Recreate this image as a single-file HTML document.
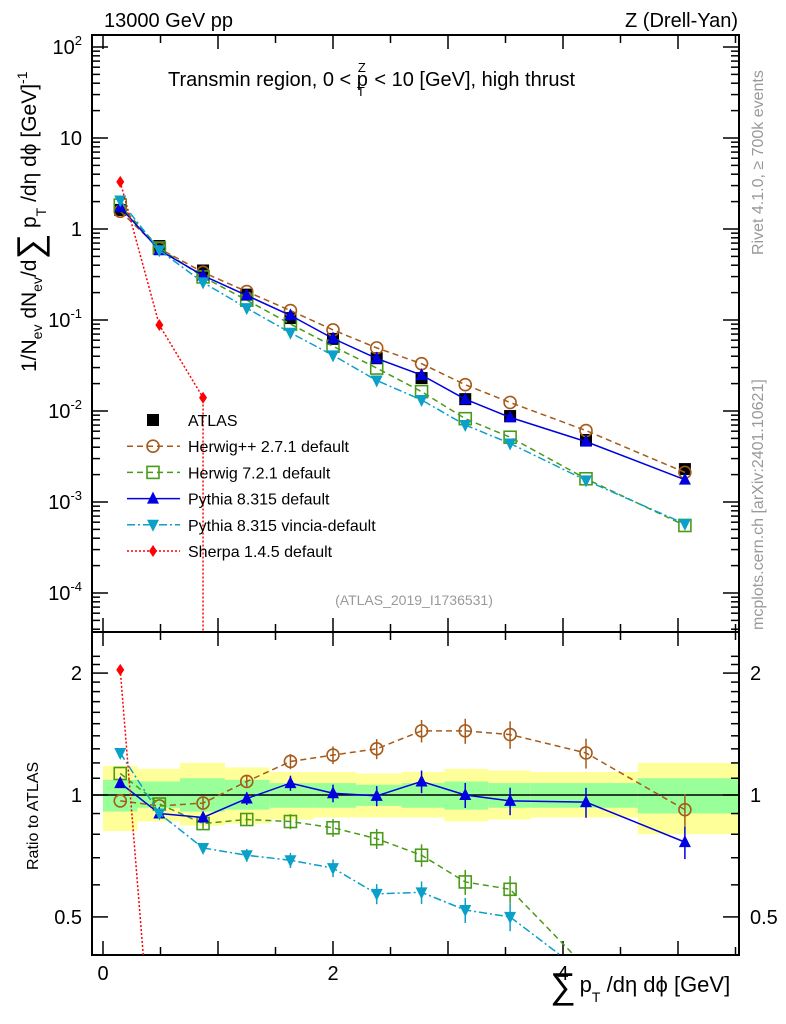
<!DOCTYPE html>
<html><head><meta charset="utf-8"><style>
body{margin:0;background:#fff;overflow:hidden;}
svg{display:block;font-family:"Liberation Sans",sans-serif;}
</style></head><body>
<svg id="c" width="786" height="1024" viewBox="0 0 786 1024" xmlns="http://www.w3.org/2000/svg"></svg>
<script>
const binCenters=[0.15,0.49,0.87,1.25,1.63,2.0,2.38,2.77,3.15,3.54,4.2,5.06];
const bandEdges=[0,0.3,0.67,1.06,1.45,1.83,2.2,2.6,2.97,3.35,3.72,4.65,5.53];
const yellowHi=[1.18,1.16,1.2,1.17,1.14,1.14,1.13,1.14,1.16,1.15,1.14,1.2];
const yellowLo=[0.815,0.86,0.84,0.85,0.87,0.88,0.88,0.88,0.86,0.87,0.88,0.8];
const greenHi=[1.09,1.08,1.1,1.09,1.07,1.07,1.06,1.07,1.08,1.07,1.07,1.1];
const greenLo=[0.91,0.93,0.91,0.92,0.93,0.93,0.94,0.93,0.92,0.93,0.93,0.9];
const atlas=[1.62,0.65,0.35,0.19,0.105,0.062,0.038,0.023,0.0135,0.0088,0.0048,0.0023];
const herwigppRatio=[0.967,0.94,0.955,1.08,1.21,1.255,1.3,1.44,1.44,1.41,1.27,0.92];
const herwig7Ratio=[1.13,0.95,0.85,0.87,0.86,0.83,0.78,0.71,0.61,0.585,0.375,0.24];
const pythiaRatio=[1.07,0.9,0.88,0.98,1.07,1.01,0.995,1.08,1.0,0.967,0.96,0.765];
const vinciaRatio=[1.27,0.9,0.74,0.71,0.69,0.66,0.57,0.575,0.52,0.5,0.36,0.25];
const sherpa=[3.3,0.088,0.014];
const mainTicks=["10^2","10","1","10^-1","10^-2","10^-3","10^-4"];

const NS="http://www.w3.org/2000/svg";
const svg=document.getElementById('c');
function mk(tag,attrs,parent){const e=document.createElementNS(NS,tag);for(const k in attrs)e.setAttribute(k,attrs[k]);(parent||svg).appendChild(e);return e;}
const L=92,R=739,T=35,MB=632,RB=955;
const X=v=>103+v*115;
const YM=v=>229-91*Math.log10(v);
const YR=v=>795-405*Math.log10(v);
const clampLine=(p0,p1,yLim)=>{ if(p1[1]<=yLim) return p1; const f=(yLim-p0[1])/(p1[1]-p0[1]); return [p0[0]+f*(p1[0]-p0[0]),yLim]; };

const defs=mk('defs',{});
const c1=mk('clipPath',{id:'cm'},defs);mk('rect',{x:L,y:T,width:R-L,height:MB-T},c1);
const c2=mk('clipPath',{id:'cr'},defs);mk('rect',{x:L,y:MB,width:R-L,height:RB-MB},c2);

const bands=mk('g',{'clip-path':'url(#cr)'});


for(let i=0;i<binCenters.length;i++){
  const x0=X(bandEdges[i]),x1=X(bandEdges[i+1]);
  const y=mk('rect',{x:x0,y:YR(yellowHi[i]),width:x1-x0,height:YR(yellowLo[i])-YR(yellowHi[i]),fill:'#ffff99'},bands);
  
  
  const g=mk('rect',{x:x0,y:YR(greenHi[i]),width:x1-x0,height:YR(greenLo[i])-YR(greenHi[i]),fill:'#99ff99'},bands);
  
  
}
mk('line',{x1:L,x2:R,y1:YR(1),y2:YR(1),stroke:'#000','stroke-width':1.5});

for(const [y0,y1,nm] of [[T,MB,'main-plot-frame'],[MB,RB,'ratio-plot-frame']]){
  const f=mk('rect',{x:L,y:y0,width:R-L,height:y1-y0,fill:'none',stroke:'#000','stroke-width':2});
  
  
}
for(let v=0;v<=5.5;v+=0.5){
  const major=(v%1===0);
  const len=major?14:8;
  for(const yb of [MB,RB]) mk('line',{x1:X(v),x2:X(v),y1:yb,y2:yb-len,stroke:'#000','stroke-width':1.5});
  for(const yt of [T,MB]) mk('line',{x1:X(v),x2:X(v),y1:yt,y2:yt+len,stroke:'#000','stroke-width':1.5});
}
for(const v of [0,2,4]){
  const t=mk('text',{x:X(v),y:980,'font-size':20,'text-anchor':'middle'});t.textContent=v;
  
  
}
for(let d=-5;d<=2;d++){
  for(let m=1;m<10;m++){
    const v=m*Math.pow(10,d);const y=YM(v);
    if(y<T||y>MB)continue;
    const len=m===1?16:8;
    mk('line',{x1:L,x2:L+len,y1:y,y2:y,stroke:'#000','stroke-width':1.5});
    mk('line',{x1:R,x2:R-len,y1:y,y2:y,stroke:'#000','stroke-width':1.5});
  }
}
mainTicks.forEach((lab,i)=>{
  const v=Math.pow(10,2-i);const y=YM(v)+7;
  const t=mk('text',{x:82,y:y,'font-size':20,'text-anchor':'end'});
  
  
  const p=lab.split('^');
  t.textContent=p[0];
  if(p[1]){const s=mk('tspan',{'font-size':13,dy:-9},t);s.textContent=p[1];}
});
for(let v=0.3;v<=2.3;v+=0.1){
  const y=YR(v);if(y<MB||y>RB)continue;
  const major=[0.5,1,2].some(q=>Math.abs(q-v)<1e-6);
  const len=major?16:8;
  mk('line',{x1:L,x2:L+len,y1:y,y2:y,stroke:'#000','stroke-width':1.5});
  mk('line',{x1:R,x2:R-len,y1:y,y2:y,stroke:'#000','stroke-width':1.5});
}
for(const v of [0.5,1,2]){
  for(const [x,a] of [[82,'end'],[750,'start']]){
    const t=mk('text',{x:x,y:YR(v)+7,'font-size':20,'text-anchor':a});t.textContent=v;
    
    
  }
}

function marker(g,type,x,y,col){
  if(type==='sq')mk('rect',{x:x-6,y:y-6,width:12,height:12,fill:'#000'},g);
  if(type==='osq')mk('rect',{x:x-6,y:y-6,width:12,height:12,fill:'none',stroke:col,'stroke-width':1.6},g);
  if(type==='oc')mk('circle',{cx:x,cy:y,r:6,fill:'none',stroke:col,'stroke-width':1.6},g);
  if(type==='tu')mk('path',{d:`M${x},${y-7}L${x+6},${y+5}L${x-6},${y+5}Z`,fill:col},g);
  if(type==='td')mk('path',{d:`M${x},${y+7}L${x+6},${y-5}L${x-6},${y-5}Z`,fill:col},g);
  if(type==='dia')mk('path',{d:`M${x},${y-6}L${x+4},${y}L${x},${y+6}L${x-4},${y}Z`,fill:col},g);
}
const series=[
  {name:'herwigpp',ratio:herwigppRatio,col:'#a65a1a',dash:'6,4',m:'oc',lab:'Herwig++ 2.7.1 default'},
  {name:'herwig7',ratio:herwig7Ratio,col:'#4a9a1a',dash:'6,4',m:'osq',lab:'Herwig 7.2.1 default'},
  {name:'pythia',ratio:pythiaRatio,col:'#0000e0',dash:'',m:'tu',lab:'Pythia 8.315 default'},
  {name:'vincia',ratio:vinciaRatio,col:'#0aa0c8',dash:'8,3,2,3',m:'td',lab:'Pythia 8.315 vincia-default'},
  {name:'sherpa',vals:sherpa,col:'#ff0000',dash:'2,2',m:'dia',lab:'Sherpa 1.4.5 default'}
];
const ga=mk('g',{'clip-path':'url(#cm)'});


atlas.forEach((v,i)=>marker(ga,'sq',X(binCenters[i]),YM(v)));

series.forEach(s=>{
  const vals=s.vals||s.ratio.map((r,i)=>r*atlas[i]);
  const gm=mk('g',{'clip-path':'url(#cm)'});
  
  
  const gr=mk('g',{'clip-path':'url(#cr)'});
  
  
  let pm=vals.map((v,i)=>[X(binCenters[i]),YM(v)]);
  let pr=vals.map((v,i)=>[X(binCenters[i]),Math.min(YR(v/atlas[i]),RB+20)]);
  if(s.name==='sherpa'){
    pm.push([X(binCenters[2]),MB]);
    pr=[pr[0],[X(0.35),RB]];
  } else {
    // clip polyline at panel bottom
    const out=[];for(let i=0;i<pr.length;i++){ if(pr[i][1]<=RB) out.push(pr[i]); else { out.push(clampLine(pr[i-1],pr[i],RB)); break; } }
    pr=out;
  }
  mk('polyline',{points:pm.map(p=>p.join(',')).join(' '),fill:'none',stroke:s.col,'stroke-width':1.5,'stroke-dasharray':s.dash},gm);
  mk('polyline',{points:pr.map(p=>p.join(',')).join(' '),fill:'none',stroke:s.col,'stroke-width':1.5,'stroke-dasharray':s.dash},gr);
  vals.forEach((v,i)=>{
    const x=X(binCenters[i]);
    marker(gm,s.m,x,YM(v),s.col);
    const r=v/atlas[i];
    if(YR(r)>RB) return;
    if(i>1 && s.name!=='sherpa'){const e=0.015+0.007*i;mk('line',{x1:x,x2:x,y1:YR(r*(1+e)),y2:Math.min(RB,YR(r*(1-e))),stroke:s.col,'stroke-width':1.5},gr);}
    marker(gr,s.m,x,YR(r),s.col);
  });
});

const leg=mk('g',{});


const lt=[['ATLAS','sq','#000','']].concat(series.map(s=>[s.lab,s.m,s.col,s.dash]));
lt.forEach((e,i)=>{
  const y=420+i*26.2;
  const g=mk('g',{},leg);
  
  
  if(i>0)mk('line',{x1:127,x2:180,y1:y,y2:y,stroke:e[2],'stroke-width':1.5,'stroke-dasharray':e[3]},g);
  marker(g,e[1],153,y,e[2]);
  const t=mk('text',{x:188,y:y+6,'font-size':16},g);t.textContent=e[0];
});

function txt(x,y,s,str,attrs){const t=mk('text',Object.assign({x:x,y:y,'font-size':s},attrs||{}));t.textContent=str;return t;}
let t;
t=txt(104,27,20,'13000 GeV pp');
t=txt(738,27,20,'Z (Drell-Yan)',{'text-anchor':'end'});
t=txt(168,86,20,'Transmin region, 0 < p');
mk('tspan',{'font-size':13,dx:-10,dy:-14},t).textContent='Z';
mk('tspan',{'font-size':13,dx:-9,dy:24},t).textContent='T';
mk('tspan',{dy:-10,dx:4},t).textContent=' < 10 [GeV], high thrust';
t=txt(414,605,14,'(ATLAS_2019_I1736531)',{'text-anchor':'middle',fill:'#999'});
t=txt(0,0,16,'Rivet 4.1.0, ≥ 700k events',{fill:'#999',transform:'translate(763,255) rotate(-90)'});
t=txt(0,0,16,'mcplots.cern.ch [arXiv:2401.10621]',{fill:'#999',transform:'translate(763,630) rotate(-90)'});
t=txt(0,0,21,'1/N',{transform:'translate(36,372) rotate(-90)'});
mk('tspan',{'font-size':14,dy:6},t).textContent='ev';
mk('tspan',{dy:-6},t).textContent=' dN';
mk('tspan',{'font-size':14,dy:6},t).textContent='ev';
mk('tspan',{dy:-6},t).textContent='/d';
mk('tspan',{'font-size':36,dy:6},t).textContent='∑';
mk('tspan',{dy:-6},t).textContent=' p';
mk('tspan',{'font-size':14,dy:10},t).textContent='T';
mk('tspan',{dy:-10},t).textContent=' /dη dϕ  [GeV]';
mk('tspan',{'font-size':14,dy:-9},t).textContent='-1';
t=txt(0,0,16,'Ratio to ATLAS',{transform:'translate(38,870) rotate(-90)'});
t=txt(550,998,36,'∑');
mk('tspan',{'font-size':22,dy:-6,dx:4},t).textContent='p';
mk('tspan',{'font-size':14,dy:10},t).textContent='T';
mk('tspan',{'font-size':22,dy:-10},t).textContent=' /dη dϕ [GeV]';
</script>
</body></html>
